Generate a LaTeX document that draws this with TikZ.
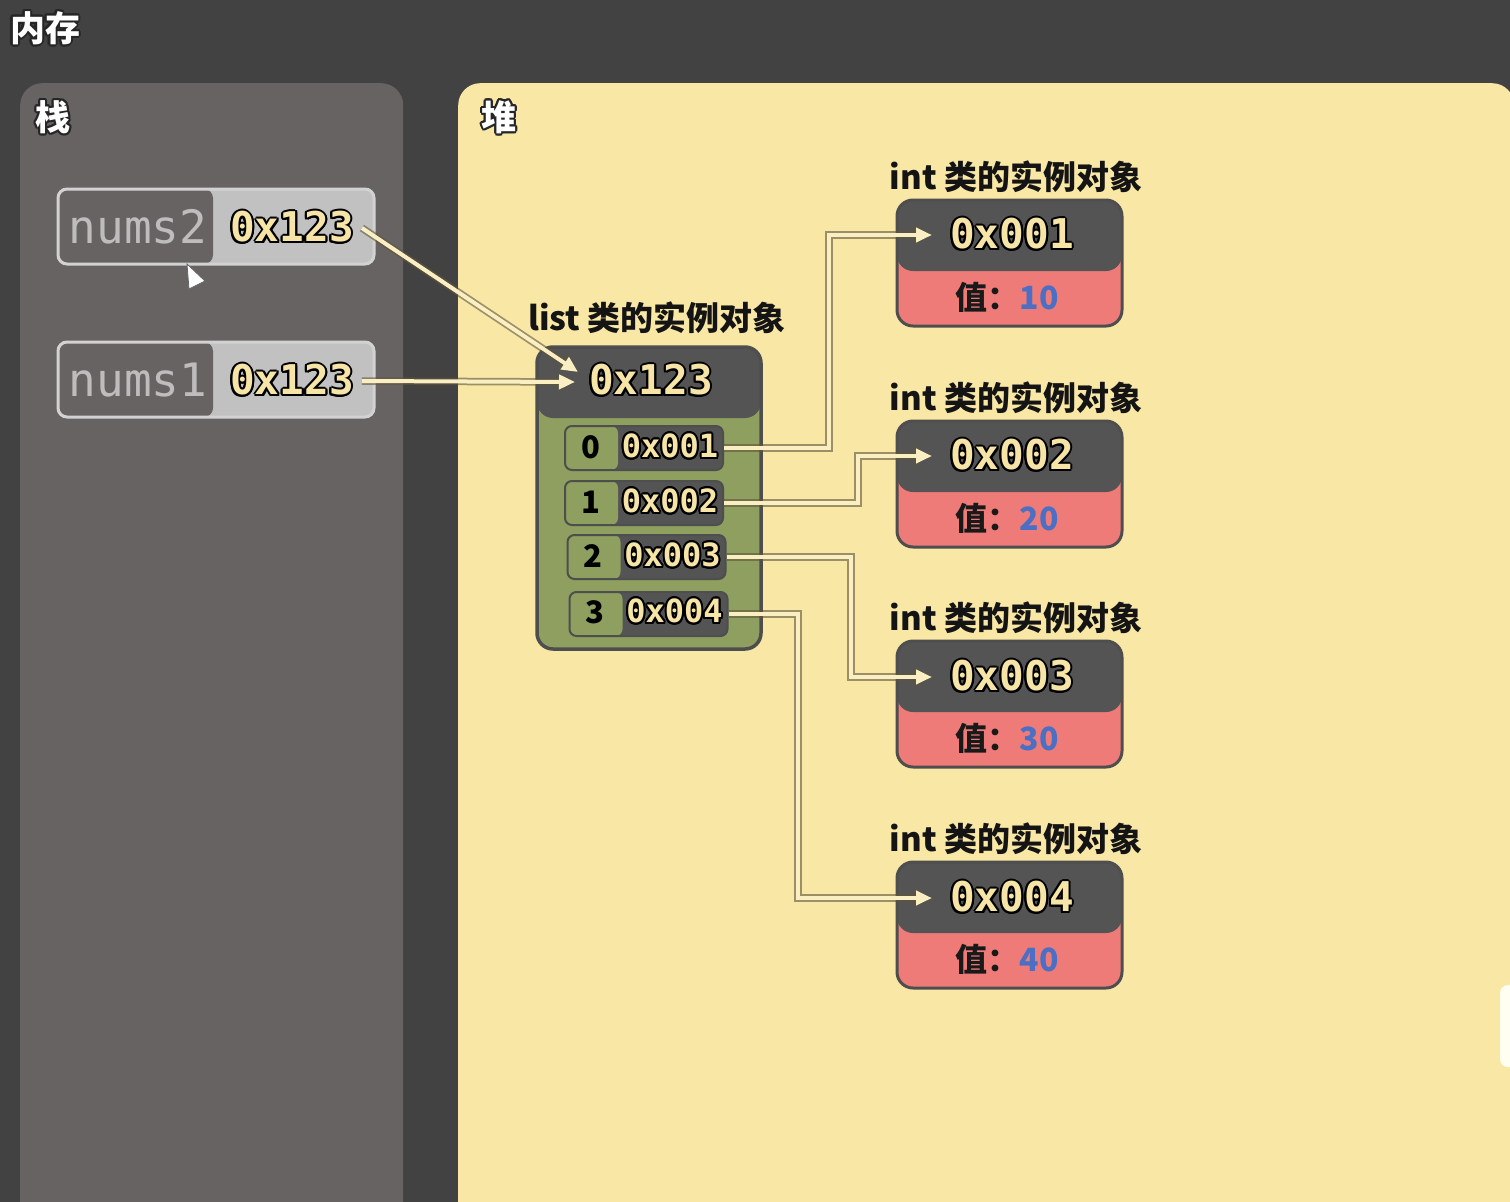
\documentclass[tikz,border=0pt]{standalone}
\usepackage{fontspec}
\usepackage[copies]{contour}
\usetikzlibrary{arrows.meta,calc}
\newfontfamily\cjk{Noto Sans CJK SC}
\newfontfamily\mono{DejaVu Sans Mono}[BoldFont={DejaVu Sans Mono Bold}]
\definecolor{bgc}{HTML}{424242}
\definecolor{stackc}{HTML}{686363}
\definecolor{heapc}{HTML}{F9E7A6}
\definecolor{darkc}{HTML}{545454}
\definecolor{borderc}{HTML}{4E4E4E}
\definecolor{greenc}{HTML}{8E9F5F}
\definecolor{redc}{HTML}{EE7B78}
\definecolor{valblue}{HTML}{4A6FC4}
\definecolor{addrc}{HTML}{F6E5A6}
\definecolor{linec}{HTML}{FAEFC2}
\definecolor{shadowc}{HTML}{5E553A}
\definecolor{varlight}{HTML}{C1C1C1}
\definecolor{varborder}{HTML}{D2D2D2}
\definecolor{varname}{HTML}{BEBCBC}
\contourlength{2pt}
\contournumber{16}
\newcommand{\ytxt}[1]{\contour{black}{#1}}
\newcommand{\wtxt}[1]{\contour{black!85}{#1}}
\tikzset{
  panel/.style={rectangle, rounded corners=22pt, inner sep=0pt, anchor=north west},
  title/.style={inner sep=0pt, text=white, font=\cjk\bfseries\fontsize{35}{38}\selectfont},
  lbl/.style={inner sep=0pt, text=black!92, font=\cjk\bfseries\fontsize{33}{36}\selectfont},
  addrbig/.style={inner sep=0pt, text=addrc, font=\mono\bfseries\fontsize{41}{44}\selectfont},
  addrsmall/.style={inner sep=0pt, text=addrc, font=\mono\bfseries\fontsize{32}{34}\selectfont},
  idx/.style={inner sep=0pt, text=black, font=\cjk\bfseries\fontsize{31}{33}\selectfont},
  valtxt/.style={inner sep=0pt, text=black!90, font=\cjk\bfseries\fontsize{32}{34}\selectfont},
  namet/.style={inner sep=0pt, text=varname, font=\mono\fontsize{46}{48}\selectfont},
  varbox/.style={rectangle, rounded corners=9pt, minimum width=316pt, minimum height=75pt,
    fill=varlight, draw=varborder, line width=3pt,
    path picture={\fill[stackc] (path picture bounding box.north west) rectangle ([xshift=155pt]path picture bounding box.south west);}},
  listbox/.style={rectangle, rounded corners=16pt, minimum width=224pt, minimum height=302pt,
    fill=greenc, draw=borderc, line width=3.5pt,
    path picture={\fill[darkc] (path picture bounding box.north west) rectangle ([yshift=-71pt]path picture bounding box.north east);}},
  rowbox/.style={rectangle, rounded corners=7pt, minimum width=158pt, minimum height=44pt,
    fill=darkc, draw=borderc, line width=2pt,
    path picture={\fill[greenc] (path picture bounding box.north west) rectangle ([xshift=53pt]path picture bounding box.south west);}},
  intbox/.style={rectangle, rounded corners=16pt, minimum width=225pt, minimum height=126pt,
    fill=redc, draw=borderc, line width=3pt,
    path picture={\fill[darkc] (path picture bounding box.north west) rectangle ([yshift=-71pt]path picture bounding box.north east);}},
  conn/.style={draw=linec, line width=4pt, -{Triangle[length=16pt,width=14pt]},
    preaction={draw=shadowc, draw opacity=0.6, line width=7.5pt, -{Triangle[length=18pt,width=18pt]}}}
}
\begin{document}
\begin{tikzpicture}[x=1pt,y=-1pt]
\useasboundingbox (0,0) rectangle (1510,1202);
\clip (0,0) rectangle (1510,1202);
\fill[bgc] (0,0) rectangle (1510,1202);

% panels
\node[panel, fill=stackc, minimum width=383pt, minimum height=1200pt] (stack) at (20,83) {};
\node[panel, fill=heapc, minimum width=1056pt, minimum height=1200pt] (heap) at (458,83) {};
\fill[white!94!yellow, rounded corners=8pt] (1500,985) rectangle (1530,1067);

% titles
\node[title] (tmem) at (45,29) {\wtxt{内存}};
\node[title] (tstack) at (53,118) {\wtxt{栈}};
\node[title] (theap) at (499,118) {\wtxt{堆}};

% stack variables
\node[varbox] (n2box) at (216,226.5) {};
\node[namet] (n2name) at (138,227) {nums2};
\node[addrbig] (n2val) at (292,228) {\ytxt{0x123}};
\node[varbox] (n1box) at (216,379.5) {};
\node[namet] (n1name) at (138,380) {nums1};
\node[addrbig] (n1val) at (292,381) {\ytxt{0x123}};

% cursor
\filldraw[fill=white, draw=black!60, line width=0.8pt] (187,264) -- (189,289) -- (205,281) -- cycle;

% list object
\node[lbl] (lstlbl) at (657,318) {list 类的实例对象};
\node[listbox] (lst) at (649,498) {};
\node[addrbig] (lstaddr) at (651,381) {\ytxt{0x123}};

\node[rowbox] (r0) at (644,448) {};
\node[idx] (r0i) at (591,447) {0};
\node[addrsmall] (r0a) at (670,447) {\ytxt{0x001}};
\node[rowbox] (r1) at (644,503) {};
\node[idx] (r1i) at (591,502) {1};
\node[addrsmall] (r1a) at (670,502) {\ytxt{0x002}};
\node[rowbox] (r2) at (646.5,557) {};
\node[idx] (r2i) at (593,556) {2};
\node[addrsmall] (r2a) at (672.5,556) {\ytxt{0x003}};
\node[rowbox] (r3) at (648.5,614) {};
\node[idx] (r3i) at (595,612) {3};
\node[addrsmall] (r3a) at (674.5,612) {\ytxt{0x004}};

% int objects
\node[lbl] (o1l) at (1016,177) {int 类的实例对象};
\node[intbox] (o1) at (1009.5,263) {};
\node[addrbig] (o1a) at (1012,235) {\ytxt{0x001}};
\node[valtxt] (o1v) at (1007,297) {值：\textcolor{valblue}{10}};

\node[lbl] (o2l) at (1016,398) {int 类的实例对象};
\node[intbox] (o2) at (1009.5,484) {};
\node[addrbig] (o2a) at (1012,456) {\ytxt{0x002}};
\node[valtxt] (o2v) at (1007,518) {值：\textcolor{valblue}{20}};

\node[lbl] (o3l) at (1016,618) {int 类的实例对象};
\node[intbox] (o3) at (1009.5,704) {};
\node[addrbig] (o3a) at (1012,677) {\ytxt{0x003}};
\node[valtxt] (o3v) at (1007,738) {值：\textcolor{valblue}{30}};

\node[lbl] (o4l) at (1016,839) {int 类的实例对象};
\node[intbox] (o4) at (1009.5,925) {};
\node[addrbig] (o4a) at (1012,898) {\ytxt{0x004}};
\node[valtxt] (o4v) at (1007,959) {值：\textcolor{valblue}{40}};

% arrow targets
\coordinate (lt1) at (578,372);
\coordinate (lt2) at (575,382);
\coordinate (e1) at (932,235);
\coordinate (e2) at (932,456);
\coordinate (e3) at (932,677);
\coordinate (e4) at (932,898);

% connectors
\draw[conn] ([xshift=8pt]n2val.east) -- (lt1);
\draw[conn] ([xshift=8pt]n1val.east) -- (lt2);
\draw[conn] (r0.east) -- ++(105,0) |- (e1);
\draw[conn] (r1.east) -- ++(134,0) |- (e2);
\draw[conn] (r2.east) -- ++(124.5,0) |- (e3);
\draw[conn] (r3.east) -- ++(69.5,0) |- (e4);
\end{tikzpicture}
\end{document}
